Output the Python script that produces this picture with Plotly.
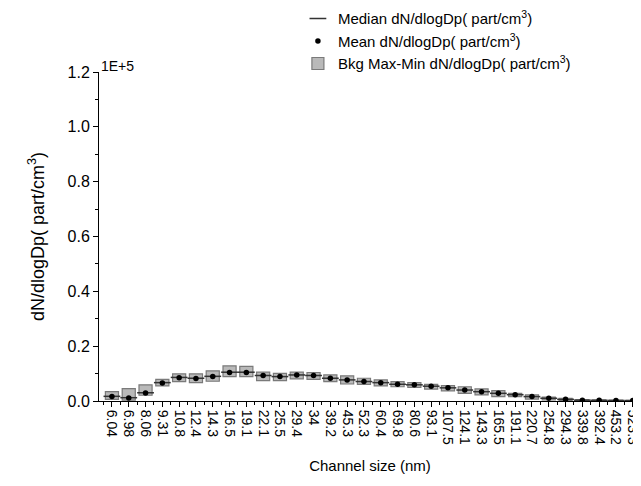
import plotly.graph_objects as go

sizes = ["6.04", "6.98", "8.06", "9.31", "10.8", "12.4", "14.3", "16.5", "19.1", "22.1",
         "25.5", "29.4", "34", "39.2", "45.3", "52.3", "60.4", "69.8", "80.6", "93.1",
         "107.5", "124.1", "143.3", "165.5", "191.1", "220.7", "254.8", "294.3", "339.8",
         "392.4", "453.2", "523.3"]

bkg_max = [3400, 4500, 5900, 7900, 9900, 9900, 11000, 12800, 12600, 10500,
           10100, 10500, 10400, 9500, 9200, 8300, 7700, 7100, 6700, 6100,
           5600, 5200, 4400, 3800, 2800, 2200, 1400, 1000, 500, 400, 300, 250]
bkg_min = [600, 300, 2100, 5500, 7100, 6700, 7200, 8900, 8900, 7400,
           7400, 8100, 7900, 7100, 6200, 6100, 5500, 5200, 5000, 4300,
           3700, 2800, 2200, 1600, 1600, 700, 400, 200, 100, 80, 60, 50]
mean_vals = [1600, 1100, 2900, 6600, 8500, 8200, 8900, 10400, 10400, 9300,
             8900, 9500, 9300, 8300, 7700, 7100, 6700, 6100, 5900, 5400,
             4800, 4000, 3400, 2800, 2300, 1600, 1000, 600, 300, 250, 200, 150]
median_vals = [1700, 1200, 3000, 6700, 8600, 8300, 9000, 10500, 10500, 9300,
               8900, 9500, 9300, 8300, 7700, 7100, 6700, 6100, 5900, 5400,
               4800, 4000, 3400, 2800, 2300, 1600, 1000, 600, 300, 250, 200, 150]

y_tickvals = [0, 20000, 40000, 60000, 80000, 100000, 120000]
y_ticktext = ["0.0", "0.2", "0.4", "0.6", "0.8", "1.0", "1.2"]

xpos = list(range(len(sizes)))
minor_x = [i + 0.5 for i in xpos[:-1]] + [-0.5]

FONT = "Arial, Liberation Sans, sans-serif"

fig = go.Figure()
fig.add_trace(go.Bar(
    x=xpos, y=[a - b for a, b in zip(bkg_max, bkg_min)], base=bkg_min, width=0.78,
    name="Bkg Max-Min dN/dlogDp( part/cm<sup>3</sup>)",
    marker=dict(color="#b9b9b9", line=dict(color="#7a7a7a", width=1.2)),
    legendrank=3))
fig.add_trace(go.Scatter(
    x=xpos, y=median_vals, mode="markers", name="Median dN/dlogDp( part/cm<sup>3</sup>)",
    marker=dict(symbol="line-ew", size=12, line=dict(width=1.5, color="#333333")),
    legendrank=1))
fig.add_trace(go.Scatter(
    x=xpos, y=mean_vals, mode="markers", name="Mean dN/dlogDp( part/cm<sup>3</sup>)",
    marker=dict(symbol="circle", size=5.5, color="black"), legendrank=2))

fig.update_layout(
    width=633, height=470,
    margin=dict(l=91, r=0, t=64, b=77, autoexpand=False),
    paper_bgcolor="white", plot_bgcolor="white",
    font=dict(family=FONT, size=15, color="black"),
    showlegend=True,
    legend=dict(x=0.367, y=1.212, xanchor="left", yanchor="top",
                traceorder="normal",
                font=dict(size=15), bgcolor="rgba(0,0,0,0)"),
    bargap=0.2,
)
fig.update_xaxes(
    range=[-0.77, 31.49], tickmode="array", tickvals=xpos, ticktext=sizes,
    tickangle=90, tickfont=dict(size=14), ticks="outside", ticklen=5,
    ticklabeloverflow="allow",
    tickcolor="black", showline=True, linecolor="black", linewidth=1,
    showgrid=False, zeroline=False, automargin=False,
    minor=dict(tickmode="array", tickvals=minor_x, ticks="outside", ticklen=3,
               tickcolor="black", showgrid=False),
    title=dict(text="Channel size (nm)", font=dict(size=15), standoff=16),
)
fig.update_yaxes(
    range=[0, 120000], tickmode="array", tickvals=y_tickvals, ticktext=y_ticktext,
    tickfont=dict(size=16), ticks="outside", ticklen=5, tickcolor="black",
    showline=True, linecolor="black", linewidth=1, showgrid=False, zeroline=False,
    automargin=False,
    minor=dict(tickmode="linear", tick0=0, dtick=10000, ticks="outside", ticklen=3,
               tickcolor="black", showgrid=False),
    title=dict(text="dN/dlogDp( part/cm<sup>3</sup>)", font=dict(size=18), standoff=18),
)
fig.add_annotation(text="1E+5", xref="paper", yref="paper", x=0.0, y=1.0,
                   xanchor="left", yanchor="bottom", showarrow=False,
                   font=dict(size=14), xshift=0, yshift=-4)

fig.write_html("out.html")
